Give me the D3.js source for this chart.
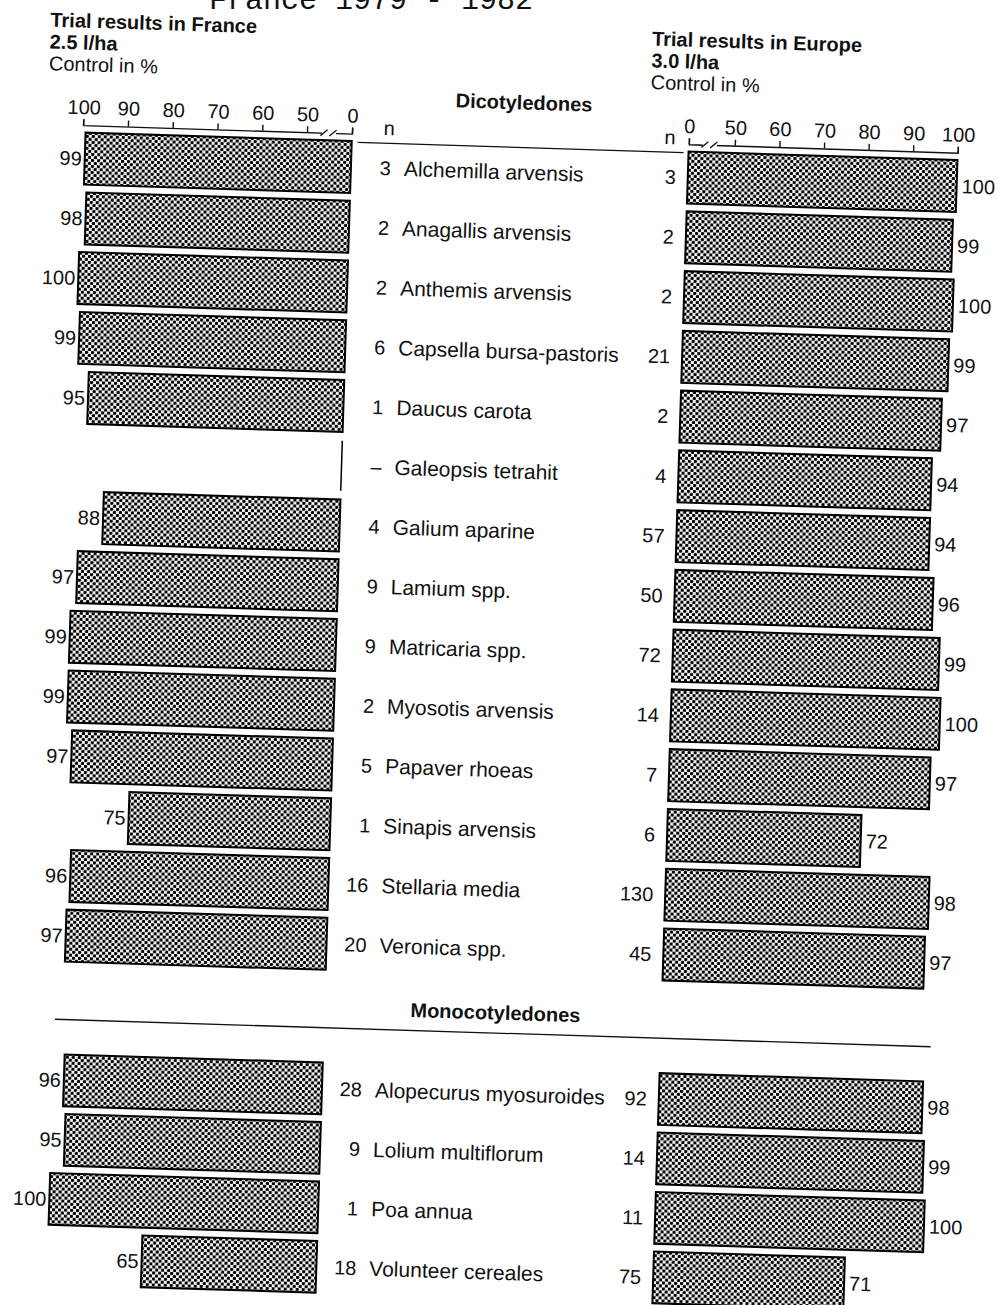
<!DOCTYPE html>
<html>
<head>
<meta charset="utf-8">
<script src="https://cdn.jsdelivr.net/npm/d3@7"></script>
<style>
  body { margin: 0; background: #fff; }
  svg { display: block; }
  text { fill: #111; font-family: "Liberation Sans", Arial, sans-serif; }
  .bold { font-weight: bold; }
</style>
</head>
<body>
<svg id="chart" width="997" height="1305"></svg>
<script>
// --- data ---
var dicotNames = ["Alchemilla arvensis", "Anagallis arvensis", "Anthemis arvensis",
    "Capsella bursa-pastoris", "Daucus carota", "Galeopsis tetrahit", "Galium aparine",
    "Lamium spp.", "Matricaria spp.", "Myosotis arvensis", "Papaver rhoeas",
    "Sinapis arvensis", "Stellaria media", "Veronica spp."];
var dicotNFrance = ["3", "2", "2", "6", "1", "\u2013", "4", "9", "9", "2", "5", "1", "16", "20"];
var dicotFrance = [99, 98, 100, 99, 95, null, 88, 97, 99, 99, 97, 75, 96, 97];
var dicotNEurope = ["3", "2", "2", "21", "2", "4", "57", "50", "72", "14", "7", "6", "130", "45"];
var dicotEurope = [100, 99, 100, 99, 97, 94, 94, 96, 99, 100, 97, 72, 98, 97];

var monoNames = ["Alopecurus myosuroides", "Lolium multiflorum", "Poa annua", "Volunteer cereales"];
var monoNFrance = ["28", "9", "1", "18"];
var monoFrance = [96, 95, 100, 65];
var monoNEurope = ["92", "14", "11", "75"];
var monoEurope = [98, 99, 100, 71];

var axisTicks = [100, 90, 80, 70, 60, 50, 0];

// --- layout ---
var svg = d3.select("#chart");
svg.append("rect").attr("width", 997).attr("height", 1305).attr("fill", "#fff");

var defs = svg.append("defs");
var pat = defs.append("pattern")
    .attr("id", "dots")
    .attr("patternUnits", "userSpaceOnUse")
    .attr("width", 6).attr("height", 6);
pat.append("rect").attr("width", 6).attr("height", 6).attr("fill", "#fff");
pat.append("circle").attr("cx", 1.5).attr("cy", 1.5).attr("r", 1.75).attr("fill", "#000");
pat.append("circle").attr("cx", 4.5).attr("cy", 4.5).attr("r", 1.75).attr("fill", "#000");

// partly cut typewriter line at the very top (not tilted in the scan)
svg.append("text")
    .attr("x", 209).attr("y", 8.5)
    .attr("textLength", 324)
    .style("font-family", "'Liberation Mono', 'DejaVu Sans Mono', monospace")
    .style("font-size", "30px")
    .text("France 1979 - 1982");

// the whole page sits slightly rotated in the scan
var page = svg.append("g").attr("transform", "rotate(1.8)");

// bars use a plain 0..100 length, the axis has a break between 50 and 0
var xLeft = d3.scaleLinear().domain([0, 100]).range([356, 87]);
var xRight = d3.scaleLinear().domain([0, 100]).range([693, 962]);
var axLeft = d3.scaleLinear().domain([0, 50, 100]).range([356, 311, 87]);
var axRight = d3.scaleLinear().domain([0, 50, 100]).range([693, 739, 962]);

var yDicot = d3.scaleBand().domain(dicotNames).range([126, 963]).paddingInner(0.13).paddingOuter(0.065);
var yMono = d3.scaleBand().domain(monoNames).range([1048, 1286]).paddingInner(0.13).paddingOuter(0.065);

// headers
function header(x, y, lines) {
    lines.forEach(function(l, i) {
        page.append("text")
            .attr("x", x).attr("y", y + i * 21.8)
            .attr("dy", "0.35em")
            .attr("class", l.bold ? "bold" : null)
            .style("font-size", "20px")
            .text(l.t);
    });
}
header(51, 18, [{t: "Trial results in France", bold: true}, {t: "2.5 l/ha", bold: true}, {t: "Control in %"}]);
header(653, 18, [{t: "Trial results in Europe", bold: true}, {t: "3.0 l/ha", bold: true}, {t: "Control in %"}]);

page.append("text").attr("class", "bold")
    .attr("x", 527).attr("y", 86).attr("dy", "0.35em")
    .attr("text-anchor", "middle").style("font-size", "20px")
    .text("Dicotyledones");
page.append("text").attr("class", "bold")
    .attr("x", 527).attr("y", 996.5).attr("dy", "0.35em")
    .attr("text-anchor", "middle").style("font-size", "20px")
    .text("Monocotyledones");

page.append("text").attr("x", 393).attr("y", 116).attr("dy", "0.35em")
    .attr("text-anchor", "middle").style("font-size", "20px").text("n");
page.append("text").attr("x", 674).attr("y", 116).attr("dy", "0.35em")
    .attr("text-anchor", "middle").style("font-size", "20px").text("n");

page.append("line").attr("x1", 362).attr("x2", 688).attr("y1", 131).attr("y2", 131)
    .attr("stroke", "#111").attr("stroke-width", 1.3);
page.append("line").attr("x1", 87).attr("x2", 963).attr("y1", 1017).attr("y2", 1017)
    .attr("stroke", "#111").attr("stroke-width", 1.3);

// axes
function drawAxis(scale, breakFrom, breakTo) {
    var g = page.append("g")
        .attr("transform", "translate(0,122.5)")
        .call(d3.axisTop(scale).tickValues(axisTicks).tickSize(6).tickSizeOuter(6).tickPadding(5));
    g.select(".domain").attr("stroke", "#111").attr("stroke-width", 1.4);
    g.selectAll(".tick line").attr("stroke", "#111").attr("stroke-width", 1.4);
    g.selectAll(".tick text")
        .attr("fill", "#111")
        .style("font-family", "'Liberation Sans', Arial, sans-serif")
        .style("font-size", "20px");
    // break in the axis line
    g.append("rect").attr("x", breakFrom).attr("y", -3).attr("width", breakTo - breakFrom).attr("height", 6)
        .attr("fill", "#fff");
    [breakFrom + 2, breakTo - 3].forEach(function(x) {
        g.append("line").attr("x1", x - 3.5).attr("x2", x + 3.5).attr("y1", 3).attr("y2", -3)
            .attr("stroke", "#111").attr("stroke-width", 1.3);
    });
}
drawAxis(axLeft, 326, 340);
drawAxis(axRight, 707, 721);

// bars and labels for one block of rows
function drawBlock(names, y, nFr, vFr, nEu, vEu) {
    var rows = names.map(function(name, i) {
        return {name: name, nFr: nFr[i], vFr: vFr[i], nEu: nEu[i], vEu: vEu[i]};
    });
    var bh = y.bandwidth();

    // France bars (grow to the left from 0)
    page.selectAll(null).data(rows.filter(function(d) { return d.vFr != null; }))
        .enter().append("rect")
        .attr("x", function(d) { return xLeft(d.vFr); })
        .attr("y", function(d) { return y(d.name); })
        .attr("width", function(d) { return xLeft(0) - xLeft(d.vFr); })
        .attr("height", bh)
        .attr("fill", "url(#dots)")
        .attr("stroke", "#000").attr("stroke-width", 2);
    // missing value: only the zero edge
    page.selectAll(null).data(rows.filter(function(d) { return d.vFr == null; }))
        .enter().append("line")
        .attr("x1", xLeft(0)).attr("x2", xLeft(0))
        .attr("y1", function(d) { return y(d.name) + 1; })
        .attr("y2", function(d) { return y(d.name) + bh - 1; })
        .attr("stroke", "#000").attr("stroke-width", 1.5);
    page.selectAll(null).data(rows.filter(function(d) { return d.vFr != null; }))
        .enter().append("text")
        .attr("x", function(d) { return xLeft(d.vFr) - 3; })
        .attr("y", function(d) { return y(d.name) + bh / 2; })
        .attr("dy", "0.35em").attr("text-anchor", "end")
        .style("font-size", "20px")
        .text(function(d) { return d.vFr; });

    // Europe bars (grow to the right from 0)
    page.selectAll(null).data(rows)
        .enter().append("rect")
        .attr("x", xRight(0))
        .attr("y", function(d) { return y(d.name); })
        .attr("width", function(d) { return xRight(d.vEu) - xRight(0); })
        .attr("height", bh)
        .attr("fill", "url(#dots)")
        .attr("stroke", "#000").attr("stroke-width", 2);
    page.selectAll(null).data(rows)
        .enter().append("text")
        .attr("x", function(d) { return xRight(d.vEu) + 5; })
        .attr("y", function(d) { return y(d.name) + bh / 2; })
        .attr("dy", "0.35em")
        .style("font-size", "20px")
        .text(function(d) { return d.vEu; });

    // middle column: n France, name, n Europe
    page.selectAll(null).data(rows)
        .enter().append("text")
        .attr("x", 396)
        .attr("y", function(d) { return y(d.name) + bh / 2; })
        .attr("dy", "0.35em").attr("text-anchor", "end")
        .style("font-size", "20px")
        .text(function(d) { return d.nFr; });
    page.selectAll(null).data(rows)
        .enter().append("text")
        .attr("x", 409)
        .attr("y", function(d) { return y(d.name) + bh / 2; })
        .attr("dy", "0.35em")
        .style("font-size", "21px")
        .text(function(d) { return d.name; });
    page.selectAll(null).data(rows)
        .enter().append("text")
        .attr("x", 681)
        .attr("y", function(d) { return y(d.name) + bh / 2; })
        .attr("dy", "0.35em").attr("text-anchor", "end")
        .style("font-size", "20px")
        .text(function(d) { return d.nEu; });
}

drawBlock(dicotNames, yDicot, dicotNFrance, dicotFrance, dicotNEurope, dicotEurope);
drawBlock(monoNames, yMono, monoNFrance, monoFrance, monoNEurope, monoEurope);
</script>
</body>
</html>
